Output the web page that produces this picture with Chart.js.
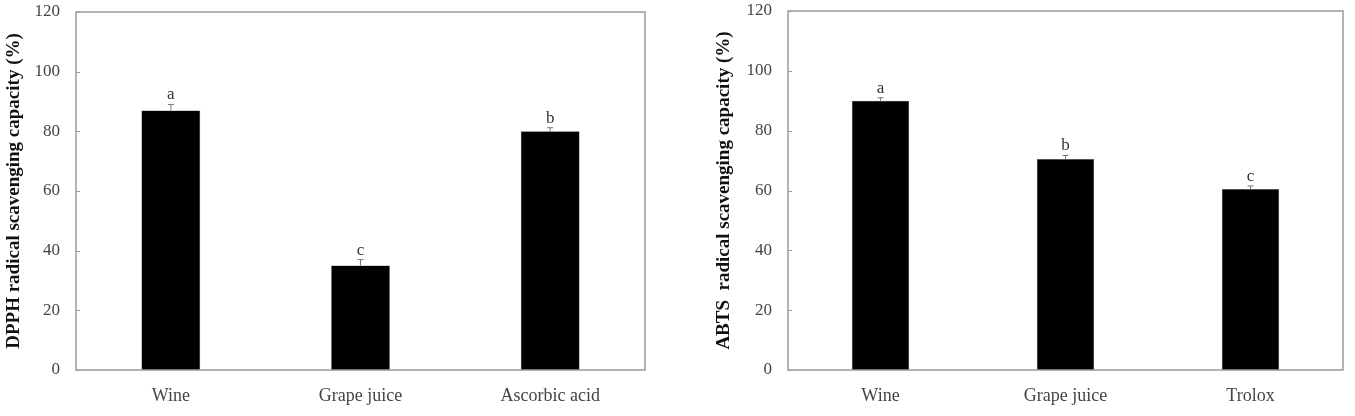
<!DOCTYPE html>
<html>
<head>
<meta charset="utf-8">
<script src="https://cdn.jsdelivr.net/npm/chart.js@4.4.1/dist/chart.umd.min.js"></script>
<style>
  html, body { margin: 0; padding: 0; background: #fff; }
  #wrap { position: relative; width: 1355px; height: 416px; }
  #left-box { position: absolute; left: 0; top: 0; width: 680px; height: 416px; }
  #right-box { position: absolute; left: 680px; top: 0; width: 675px; height: 416px; }
</style>
</head>
<body>
<div id="wrap">
  <div id="left-box"><canvas id="dpph-chart"></canvas></div>
  <div id="right-box"><canvas id="abts-chart"></canvas></div>
</div>
<script>
// ------------------------------------------------------------
// DATA
// ------------------------------------------------------------
const dpphLabels = ["Wine", "Grape juice", "Ascorbic acid"];
const dpphValues = [87, 35, 80];
const dpphErrors = [2, 2, 1.2];
const dpphLetters = ["a", "c", "b"];

const abtsLabels = ["Wine", "Grape juice", "Trolox"];
const abtsValues = [90, 70.5, 60.5];
const abtsErrors = [1, 1.2, 1];
const abtsLetters = ["a", "b", "c"];

const yTicks = [0, 20, 40, 60, 80, 100, 120];

const SERIF = "'Liberation Serif', 'Times New Roman', serif";

// ------------------------------------------------------------
// PLUGIN: box, inward ticks, error bars, letters
// ------------------------------------------------------------
const decorPlugin = {
    id: "decor",
    afterDatasetsDraw(chart, args, opts) {
        const ctx = chart.ctx;
        const area = chart.chartArea;
        const x = chart.scales.x;
        const y = chart.scales.y;

        ctx.save();

        // error bars
        ctx.strokeStyle = "#777";
        ctx.lineWidth = 1;
        opts.errors.forEach((err, i) => {
            const cx = x.getPixelForValue(i);
            const top = y.getPixelForValue(opts.values[i] + err);
            const base = y.getPixelForValue(opts.values[i]);
            ctx.beginPath();
            ctx.moveTo(cx, base);
            ctx.lineTo(cx, top);
            ctx.moveTo(cx - 3, top);
            ctx.lineTo(cx + 3, top);
            ctx.stroke();
        });

        // letters
        ctx.fillStyle = "#333";
        ctx.font = "17px " + SERIF;
        ctx.textAlign = "center";
        ctx.textBaseline = "bottom";
        opts.letters.forEach((t, i) => {
            const cx = x.getPixelForValue(i);
            const top = y.getPixelForValue(opts.values[i] + opts.errors[i]);
            ctx.fillText(t, cx, top - 1);
        });

        // frame
        ctx.strokeStyle = "#9a9a9a";
        ctx.lineWidth = 1.5;
        ctx.strokeRect(area.left, area.top, area.right - area.left, area.bottom - area.top);

        // inward ticks on y axis
        ctx.strokeStyle = "#9a9a9a";
        ctx.lineWidth = 1;
        yTicks.forEach(v => {
            const py = Math.round(y.getPixelForValue(v)) + 0.5;
            ctx.beginPath();
            ctx.moveTo(area.left, py);
            ctx.lineTo(area.left + 4, py);
            ctx.stroke();
        });

        ctx.restore();
    }
};

// ------------------------------------------------------------
// BUILD ONE CHART
// ------------------------------------------------------------
function makeChart(canvasId, labels, values, errors, letters, title, pad, yWidth) {
    const ctx = document.getElementById(canvasId).getContext("2d");

    return new Chart(ctx, {
        type: "bar",
        data: {
            labels: labels,
            datasets: [
                {
                    data: values,
                    backgroundColor: "#000",
                    borderColor: "#555",
                    borderWidth: 0.5,
                    barPercentage: 0.31,
                    categoryPercentage: 1
                }
            ]
        },
        options: {
            responsive: true,
            maintainAspectRatio: false,
            animation: false,
            layout: { padding: pad },
            scales: {
                x: {
                    grid: { display: false },
                    border: { display: false },
                    ticks: {
                        color: "#444",
                        padding: 7,
                        font: { family: SERIF, size: 18 }
                    },
                    afterFit(scale) { scale.height = 46; }
                },
                y: {
                    min: 0,
                    max: 120,
                    afterBuildTicks(scale) {
                        scale.ticks = yTicks.map(v => ({ value: v }));
                    },
                    grid: { display: false },
                    border: { display: false },
                    ticks: {
                        color: "#444",
                        padding: 8,
                        font: { family: SERIF, size: 17 }
                    },
                    title: {
                        display: true,
                        text: title,
                        color: "#111",
                        padding: { top: 3, bottom: 2 },
                        font: { family: SERIF, size: 19, weight: "bold" }
                    },
                    afterFit(scale) {
                        scale.width = yWidth;
                        scale.paddingTop = 0;
                        scale.paddingBottom = 0;
                    }
                }
            },
            plugins: {
                legend: { display: false },
                tooltip: { enabled: false },
                decor: { values: values, errors: errors, letters: letters }
            }
        },
        plugins: [decorPlugin]
    });
}

makeChart("dpph-chart", dpphLabels, dpphValues, dpphErrors, dpphLetters,
    "DPPH radical scavenging capacity (%)",
    { left: 0, right: 35, top: 12, bottom: 0 }, 76);

makeChart("abts-chart", abtsLabels, abtsValues, abtsErrors, abtsLetters,
    "ABTS  radical scavenging capacity (%)",
    { left: 30, right: 12, top: 11, bottom: 0 }, 78);
</script>
</body>
</html>
